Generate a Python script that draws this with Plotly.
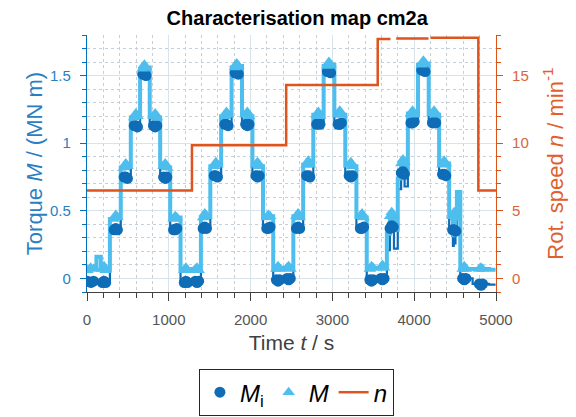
import plotly.graph_objects as go

# ---------------- data ----------------
# stationary operating points (markers): time in s
t_pts = [5, 45, 80,
         188, 208, 228,
         332, 352, 372,
         454, 474, 494,
         577, 597, 617,
         681, 701, 721,
         813, 833, 853,
         936, 956, 976,
         1058, 1078, 1098,
         1189, 1209, 1229,
         1325, 1345, 1365,
         1420, 1440, 1460,
         1555, 1575, 1595,
         1685, 1705, 1725,
         1810, 1830, 1850,
         1940, 1960, 1980,
         2065, 2085, 2105,
         2198, 2218, 2238,
         2315, 2335, 2355,
         2445, 2465, 2485,
         2560, 2580, 2600,
         2685, 2705, 2725,
         2808, 2828, 2848,
         2938, 2958, 2978,
         3070, 3090, 3110,
         3205, 3225, 3245,
         3342, 3362, 3382,
         3458, 3478, 3498,
         3592, 3612, 3632,
         3705, 3725, 3745,
         3842, 3862, 3880,
         3960, 3980, 4000,
         4092, 4112, 4132,
         4223, 4243, 4263,
         4346, 4366, 4386,
         4469, 4489, 4509,
         4592, 4612, 4632,
         4796, 4816, 4836]
# internal torque M_i / (MN m)
Mi_pts = [-0.02, -0.03, -0.02,
          -0.03, -0.02, -0.03,
          0.36, 0.37, 0.36,
          0.75, 0.75, 0.74,
          1.13, 1.13, 1.12,
          1.51, 1.51, 1.50,
          1.13, 1.12, 1.13,
          0.75, 0.74, 0.75,
          0.36, 0.36, 0.37,
          -0.03, -0.02, -0.03,
          -0.02, -0.03, -0.02,
          0.37, 0.38, 0.37,
          0.76, 0.76, 0.75,
          1.14, 1.14, 1.13,
          1.52, 1.52, 1.51,
          1.14, 1.13, 1.14,
          0.76, 0.75, 0.76,
          0.37, 0.37, 0.38,
          -0.01, -0.02, -0.01,
          0.00, -0.01, 0.00,
          0.37, 0.38, 0.37,
          0.76, 0.76, 0.75,
          1.14, 1.15, 1.14,
          1.53, 1.53, 1.52,
          1.14, 1.14, 1.15,
          0.76, 0.75, 0.76,
          0.37, 0.37, 0.38,
          -0.01, -0.02, -0.01,
          0.00, -0.01, 0.00,
          0.37, 0.39, 0.38,
          0.78, 0.79, 0.77,
          1.15, 1.15, 1.16,
          1.54, 1.54, 1.53,
          1.15, 1.16, 1.15,
          0.77, 0.77, 0.76,
          0.36, 0.36, 0.35,
          0.00, -0.01, 0.00,
          -0.04, -0.05, -0.04]
# measured torque M / (MN m)
M_pts = [0.06, 0.08, 0.07,
         0.07, 0.09, 0.06,
         0.44, 0.47, 0.45,
         0.82, 0.85, 0.83,
         1.19, 1.22, 1.20,
         1.55, 1.58, 1.56,
         1.20, 1.22, 1.19,
         0.83, 0.85, 0.82,
         0.44, 0.46, 0.45,
         0.06, 0.08, 0.06,
         0.07, 0.08, 0.06,
         0.45, 0.48, 0.46,
         0.83, 0.86, 0.84,
         1.20, 1.23, 1.21,
         1.56, 1.59, 1.57,
         1.21, 1.23, 1.20,
         0.84, 0.86, 0.83,
         0.45, 0.47, 0.46,
         0.07, 0.09, 0.07,
         0.08, 0.09, 0.07,
         0.46, 0.48, 0.45,
         0.84, 0.87, 0.84,
         1.21, 1.23, 1.20,
         1.57, 1.60, 1.58,
         1.21, 1.24, 1.21,
         0.84, 0.86, 0.83,
         0.46, 0.48, 0.45,
         0.07, 0.09, 0.08,
         0.08, 0.10, 0.08,
         0.46, 0.49, 0.47,
         0.85, 0.88, 0.86,
         1.22, 1.24, 1.21,
         1.58, 1.61, 1.59,
         1.22, 1.24, 1.21,
         0.84, 0.87, 0.85,
         0.46, 0.49, 0.45,
         0.07, 0.09, 0.07,
         0.07, 0.08, 0.07]

# transient excursions of the recorded signals (line only)
t_spk = [150, 3700, 3760, 3838, 3885, 4478, 4500, 4535, 4995]
Mi_spk = [-0.02, 0.21, 0.22, 0.66, 0.68, 0.24, 0.26, 0.60, -0.045]
M_spk = [0.16, 0.33, 0.36, 0.74, 0.78, 0.32, 0.34, 0.64, 0.065]

# rotational speed n / min^-1
t_n = [0, 1283, 2435, 3554, 3710, None, 3780, 4175, None, 4200, 4784, 5000]
n_vals = [6.5, 9.85, 14.3, 17.7, 17.7, None, 17.75, 17.75, None, 17.8, 6.5, 6.5]

# ---------------- styling ----------------
FONT = "Liberation Sans, Arial, sans-serif"
c_dark = "#0F6CB6"
c_light = "#4DBEEE"
c_orange = "#DE541E"
ax_blue = "#0072BD"
lbl_blue = "#2A7FC2"
ax_orange = "#D95319"
grid_major = "#D8E4EC"
grid_minor = "#C3CFD9"

line_pts = sorted(zip(t_pts + t_spk, Mi_pts + Mi_spk, M_pts + M_spk))
t_line = [p[0] for p in line_pts]
Mi_line = [p[1] for p in line_pts]
M_line = [p[2] for p in line_pts]

fig = go.Figure()
fig.add_trace(go.Scatter(x=t_line, y=Mi_line, mode="lines", line=dict(color=c_dark, width=2.2, shape="hvh"),
                         showlegend=False, hoverinfo="skip"))
fig.add_trace(go.Scatter(x=t_line, y=M_line, mode="lines", line=dict(color=c_light, width=4, shape="hvh"),
                         showlegend=False, hoverinfo="skip"))
fig.add_trace(go.Scatter(x=t_pts, y=Mi_pts, mode="markers", name="<i>M</i><sub>i</sub>",
                         marker=dict(symbol="circle", size=11, color=c_dark)))
fig.add_trace(go.Scatter(x=t_pts, y=M_pts, mode="markers", name="<i>M</i>",
                         marker=dict(symbol="triangle-up", size=11, color=c_light)))
fig.add_trace(go.Scatter(x=t_n, y=n_vals, mode="lines", name="<i>n</i>", yaxis="y2",
                         line=dict(color=c_orange, width=2.5, shape="hv"), connectgaps=False))

fig.update_layout(
    width=576, height=417,
    margin=dict(l=87, r=80, t=35, b=125, autoexpand=False),
    paper_bgcolor="white", plot_bgcolor="white",
    font=dict(family=FONT),
    title=dict(text="<b>Characterisation map cm2a</b>", font=dict(size=20, color="black", family=FONT),
               x=0.516, xref="container", xanchor="center", y=0.958, yref="container", yanchor="middle"),
    xaxis=dict(range=[0, 5000], tick0=0, dtick=1000, ticks="outside", ticklen=8, tickwidth=1,
               tickcolor="#404040", showline=True, linecolor="#404040", linewidth=1,
               tickfont=dict(size=15, color="#555555"), ticklabelstandoff=6,
               title=dict(text="Time <i>t</i> / s", font=dict(size=21, color="#404040"), standoff=8),
               showgrid=True, gridcolor=grid_major, gridwidth=1, zeroline=False,
               minor=dict(dtick=200, tick0=0, ticks="outside", ticklen=5, tickcolor="#404040",
                          showgrid=True, gridcolor=grid_minor, griddash="dot")),
    yaxis=dict(range=[-0.1, 1.8], tick0=0, dtick=0.5, ticks="outside", ticklen=6, tickwidth=1,
               tickcolor=ax_blue, showline=True, linecolor=ax_blue, linewidth=1.2,
               tickfont=dict(size=15, color=lbl_blue), ticklabelstandoff=6,
               title=dict(text="Torque <i>M</i> / (MN m)", font=dict(size=22, color=lbl_blue), standoff=1),
               showgrid=True, gridcolor=grid_major, gridwidth=1, zeroline=False,
               minor=dict(dtick=0.1, tick0=0, ticks="outside", ticklen=4, tickcolor=ax_blue,
                          showgrid=True, gridcolor=grid_minor, griddash="dot")),
    yaxis2=dict(range=[-1, 18], tick0=0, dtick=5, overlaying="y", side="right", ticks="outside",
                ticklen=6, tickwidth=1, tickcolor=ax_orange, showline=True, linecolor=ax_orange,
                linewidth=1.2, tickfont=dict(size=15, color="#D9663A"), ticklabelstandoff=6,
                title=dict(text="Rot. speed <i>n</i> / min<sup>-1</sup>", font=dict(size=22, color="#E0602B"),
                           standoff=19),
                showgrid=False, zeroline=False,
                minor=dict(dtick=1, tick0=0, ticks="outside", ticklen=4, tickcolor=ax_orange)),
    legend=dict(orientation="h", x=0.512, xanchor="center", y=-0.30, yanchor="top",
                font=dict(size=24, color="black"), bordercolor="#262626", borderwidth=1,
                bgcolor="white", itemwidth=30, tracegroupgap=0),
)

fig.write_html("out.html")
